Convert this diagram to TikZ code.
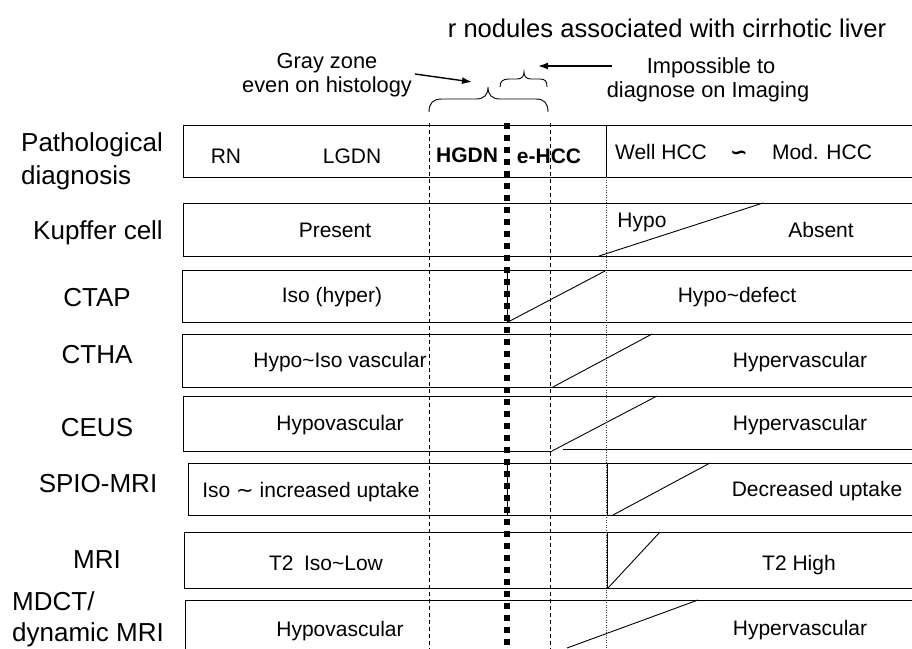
\documentclass[tikz,border=0pt]{standalone}
\usepackage{fontspec}
\setmainfont{Liberation Sans}
\newfontfamily\symfont{DejaVu Sans}
\usetikzlibrary{arrows.meta}
\begin{document}
\begin{tikzpicture}[x=1pt,y=-1pt,
  boxline/.style={line width=0.9pt},
  lab/.style={font=\fontsize{26}{30}\selectfont, inner sep=0pt, anchor=base},
  txt/.style={font=\fontsize{21}{25}\selectfont, inner sep=0pt, anchor=base},
  toptxt/.style={font=\fontsize{21.8}{25}\selectfont, inner sep=0pt, anchor=base},
  thindash/.style={line width=0.8pt, dash pattern=on 4pt off 3pt},
  thickdash/.style={line width=5.5pt, dash pattern=on 6pt off 6pt},
  finedot/.style={line width=0.6pt, dash pattern=on 1pt off 1.5pt, black!80},
  brc/.style={line width=0.9pt},
  pointer/.style={line width=1.4pt, -{Latex[length=10pt,width=7pt]}}
]
\useasboundingbox (0,0) rectangle (912,648);

% ---------- row boxes ----------
% R1 Pathological
\draw[boxline] (915,125) -- (183,125) -- (183,177) -- (915,177);
\draw[boxline] (606,125) -- (606,177);
% R2 Kupffer
\draw[boxline] (915,203) -- (183,203) -- (183,256) -- (915,256);
\draw[boxline] (599,256) -- (763,203);
% R3 CTAP
\draw[boxline] (915,270) -- (182,270) -- (182,322) -- (915,322);
\draw[boxline] (507,270) -- (507,322);
\draw[boxline] (508,322) -- (605,271);
% R4 CTHA
\draw[boxline] (915,334) -- (182,334) -- (182,387) -- (915,387);
\draw[boxline] (553,387) -- (652,334);
% R5 CEUS
\draw[boxline] (915,396) -- (183,396) -- (183,451) -- (552,451);
\draw[boxline] (563,449) -- (915,449);
\draw[boxline] (552,451) -- (657,396);
% R6 SPIO-MRI
\draw[boxline] (915,463) -- (188,463) -- (188,515) -- (915,515);
\draw[boxline] (507,463) -- (507,515);
\draw[boxline] (607,463) -- (607,515);
\draw[boxline] (613,515) -- (710,463);
% R7 MRI
\draw[boxline] (915,532) -- (184,532) -- (184,588) -- (915,588);
\draw[boxline] (607,532) -- (607,588);
\draw[boxline] (608,588) -- (660,532);
% R8 MDCT
\draw[boxline] (915,600) -- (185,600) -- (185,660);
\draw[boxline] (567,648) -- (698,600);

% ---------- vertical guide lines ----------
\draw[thindash] (429,123) -- (429,650);
\draw[thindash] (550,123) -- (550,650);
\draw[finedot] (606,177) -- (606,650);
\draw[thickdash] (507,123) -- (507,650);

% ---------- braces ----------
\coordinate (bigtip) at (488,87);
\coordinate (smalltip) at (524,72);
\draw[brc] (429,112) .. controls (429,103) and (433,99) .. (442,99) -- (476,99)
  .. controls (484,99) and (488,95) .. (bigtip)
  .. controls (488,95) and (492,99) .. (500,99) -- (536,99)
  .. controls (544,99) and (548,103) .. (548,112);
\draw[brc] (500,87) .. controls (500,81) and (503,79) .. (509,79) -- (517,79)
  .. controls (522,79) and (524,76) .. (smalltip)
  .. controls (524,76) and (526,79) .. (531,79) -- (540,79)
  .. controls (545,79) and (547,81) .. (547,87);

% ---------- top texts ----------
\node[font=\fontsize{25.6}{30}\selectfont, inner sep=0pt, anchor=base] (title) at (667,37) {r nodules associated with cirrhotic liver};
\node[toptxt] (gz1) at (327,68) {Gray zone};
\node[toptxt] (gz2) at (327,92) {even on histology};
\node[toptxt] (im1) at (711,73) {Impossible to};
\node[toptxt] (im2) at (708,97) {diagnose on Imaging};
\coordinate (gzarr) at (415,74);
\coordinate (gzend) at (472,82);
\coordinate (imarr) at (612,66);
\coordinate (imend) at (538,66);
\draw[pointer] (gzarr) -- (gzend);
\draw[pointer] (imarr) -- (imend);

% ---------- left labels ----------
\node[lab, anchor=base west] (l1a) at (21,151) {Pathological};
\node[lab, anchor=base west] (l1b) at (21,184) {diagnosis};
\node[lab, anchor=base east] (l2) at (163,239) {Kupffer cell};
\node[lab] (l3) at (97,306) {CTAP};
\node[lab] (l4) at (97,363) {CTHA};
\node[lab] (l5) at (97,436) {CEUS};
\node[lab] (l6) at (98,492) {SPIO-MRI};
\node[lab] (l7) at (97,568) {MRI};
\node[lab, anchor=base west] (l8a) at (12,610) {MDCT/};
\node[lab, anchor=base west] (l8b) at (12,641) {dynamic MRI};

% ---------- row texts ----------
\node[txt] (rn) at (226,163) {RN};
\node[txt] (lgdn) at (352,163) {LGDN};
\node[txt, font=\fontsize{21}{25}\selectfont\bfseries] (hgdn) at (467,162) {HGDN};
\node[txt, font=\fontsize{21}{25}\selectfont\bfseries] (ehcc) at (549,163) {e-HCC};
\node[txt] (well) at (661,159) {Well HCC};
\node[txt, font=\fontsize{21}{25}\selectfont\symfont\bfseries] (sim) at (739,159) {∽};
\node[txt] (mod) at (822,159) {Mod. HCC};

\node[txt] (present) at (335,237) {Present};
\node[txt] (hypo) at (642,227) {Hypo};
\node[txt] (absent) at (821,237) {Absent};

\node[txt] (isoh) at (332,302) {Iso (hyper)};
\node[txt] (hdef) at (737,302) {Hypo\textasciitilde defect};

\node[txt] (hiv) at (340,367) {Hypo\textasciitilde Iso vascular};
\node[txt] (hyv1) at (800,367) {Hypervascular};

\node[txt] (hov2) at (340,430) {Hypovascular};
\node[txt] (hyv2) at (800,430) {Hypervascular};

\node[txt] (isoinc) at (311,497) {Iso {\symfont ∼} increased uptake};
\node[txt] (decr) at (817,496) {Decreased uptake};

\node[txt] (t2low) at (326,570) {T2\hspace{0.5em}Iso\textasciitilde Low};
\node[txt] (t2high) at (799,570) {T2 High};

\node[txt] (hov3) at (340,636) {Hypovascular};
\node[txt] (hyv3) at (800,635) {Hypervascular};
\end{tikzpicture}
\end{document}
